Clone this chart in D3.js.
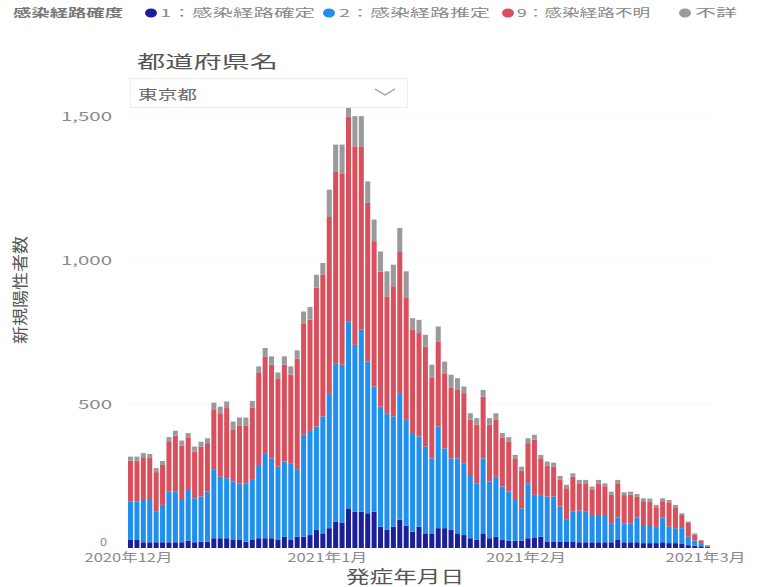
<!DOCTYPE html>
<html><head><meta charset="utf-8">
<script src="https://cdn.jsdelivr.net/npm/d3@7"></script>
<style>
html,body{margin:0;padding:0;background:#fff;}
svg text{font-family:"Noto Sans CJK JP","Noto Sans",sans-serif;}
</style></head>
<body><svg id="c" width="757" height="587"></svg>
<script>
// ---- data ----
const startDate = "2020-12-01";
const endDate = "2021-03-01";
const confirmed = [28,28,20,20,20,20,20,20,20,26,20,22,22,34,34,34,30,28,22,30,34,34,34,30,40,28,40,39,45,63,51,69,92,89,138,126,126,121,126,74,63,74,98,77,57,74,51,51,69,69,63,51,45,34,28,51,34,39,28,26,26,26,34,37,40,23,23,23,23,23,20,20,20,20,20,20,28,20,20,20,17,17,17,20,17,17,14,10,8,6,3];
const estimated = [133,133,147,147,106,130,176,176,147,176,153,157,174,238,214,209,201,197,203,207,255,296,278,253,261,267,232,355,359,360,407,470,551,549,651,581,634,528,436,418,406,384,441,369,343,314,302,261,354,278,249,261,250,220,197,261,197,209,186,170,141,112,191,148,145,156,156,121,75,103,110,106,95,95,95,64,78,66,66,86,63,63,57,86,57,52,55,29,18,11,3];
const unknown = [143,143,149,146,138,139,173,195,190,181,163,174,169,211,221,244,180,200,200,252,320,337,326,305,337,308,387,386,391,483,494,613,668,666,713,691,638,552,506,470,407,453,494,424,359,360,348,280,296,261,245,238,244,192,204,215,198,198,169,173,143,131,140,192,125,108,104,95,110,122,95,99,89,110,100,102,119,98,100,72,83,82,68,57,85,73,46,48,21,9,3];
const notStated = [14,14,14,14,14,14,17,17,17,17,17,17,17,23,23,23,29,29,29,23,23,29,29,23,29,29,29,43,44,45,40,95,93,100,33,105,105,75,75,70,87,75,81,93,41,46,41,46,52,41,46,41,23,23,23,23,23,23,17,17,14,14,17,17,14,14,14,12,12,12,12,12,10,12,10,10,12,10,10,10,10,10,8,10,8,8,6,5,4,2,1];
const seriesKeys = ["1：感染経路確定","2：感染経路推定","9：感染経路不明","不詳"];
const seriesColors = ["#1B1F98","#1F8FF0","#DA4F5C","#9A9A9A"];
const yTicks = [0,500,1000,1500];
const xTickDates = ["2020-12-01","2021-01-01","2021-02-01","2021-03-01"];
const legendTitle = "感染経路確度";
const filterLabel = "都道府県名";
const filterValue = "東京都";
const yTitle = "新規陽性者数";
const xTitle = "発症年月日";

// ---- build ----
const parse = d3.utcParse("%Y-%m-%d");
const dates = d3.utcDay.range(parse(startDate), d3.utcDay.offset(parse(endDate),1));
const rows = dates.map((d,i)=>({date:d,
  [seriesKeys[0]]:confirmed[i],[seriesKeys[1]]:estimated[i],
  [seriesKeys[2]]:unknown[i],[seriesKeys[3]]:notStated[i]}));

const svg = d3.select("#c");
const x = d3.scaleUtc().domain([parse(startDate), parse(endDate)]).range([128, 705]);
const y = d3.scaleLinear().domain([0,1500]).range([548,117]);
const color = d3.scaleOrdinal().domain(seriesKeys).range(seriesColors);
const step = x(d3.utcDay.offset(parse(startDate),1)) - x(parse(startDate));
const bw = step - 1.4;

function fit(sel,w){ sel.attr("textLength",w).attr("lengthAdjust","spacingAndGlyphs"); }

// gridlines
svg.append("g").selectAll("line").data(yTicks.filter(t=>t>0)).join("line")
  .attr("x1",128).attr("x2",712).attr("y1",d=>y(d)).attr("y2",d=>y(d))
  .attr("stroke","#e6e6e6").attr("stroke-width",1).attr("stroke-dasharray","1,3");

// bars
const stack = d3.stack().keys(seriesKeys)(rows);
svg.append("g").selectAll("g").data(stack).join("g").attr("fill",d=>color(d.key))
  .selectAll("rect").data(d=>d).join("rect")
  .attr("x",d=>x(d.data.date)).attr("width",bw)
  .attr("y",d=>y(d[1])).attr("height",d=>Math.max(0,y(d[0])-y(d[1])));

// y axis
const yAx = svg.append("g").attr("transform","translate(112,0)")
  .call(d3.axisLeft(y).tickValues(yTicks).tickFormat(d3.format(",")).tickSize(0).tickPadding(0));
yAx.select(".domain").remove();
yAx.selectAll("text").attr("fill","#8a8a8a").attr("font-size",12)
  .each(function(d){ const s=d3.select(this); fit(s, d===0?7:(d>=1000?51:34));
    if(d===0){ s.attr("font-size",11).attr("y",-6).attr("x",-5); } });

// x axis
const xAx = svg.append("g").attr("transform","translate(0,548)")
  .call(d3.axisBottom(x).tickValues(xTickDates.map(parse)).tickFormat(d3.utcFormat("%Y年%-m月")).tickSize(0).tickPadding(5));
xAx.select(".domain").remove();
xAx.selectAll("text").attr("fill","#8a8a8a").attr("font-size",12)
  .each(function(d,i){ fit(d3.select(this), i===0?88:80); });

// axis titles
svg.append("text").attr("x",405).attr("y",583).attr("text-anchor","middle")
  .attr("font-size",17).attr("fill","#555").text(xTitle).call(fit,118);
svg.append("text").attr("transform","translate(26,290) rotate(-90)").attr("text-anchor","middle")
  .attr("font-size",16).attr("fill","#555").text(yTitle).call(fit,108);

// filter (dropdown)
svg.append("text").attr("x",137).attr("y",68).attr("font-size",17).attr("fill","#555")
  .text(filterLabel).call(fit,141);
svg.append("rect").attr("x",130.5).attr("y",78.5).attr("width",277).attr("height",29)
  .attr("fill","#fff").attr("stroke","#ececec");
svg.append("text").attr("x",138).attr("y",99).attr("font-size",13).attr("fill","#666")
  .text(filterValue).call(fit,59);
svg.append("polyline").attr("points","375,89 385,95 395,89").attr("fill","none")
  .attr("stroke","#999").attr("stroke-width",1.2);

// legend
svg.append("text").attr("x",13).attr("y",17).attr("font-size",11).attr("font-weight","bold")
  .attr("fill","#777").text(legendTitle).call(fit,110);
const legPos = [{m:151,t:160,w:155},{m:329,t:339,w:151},{m:508,t:517,w:133},{m:685,t:695,w:42}];
const leg = svg.append("g").selectAll("g").data(seriesKeys).join("g");
leg.append("ellipse").attr("cx",(d,i)=>legPos[i].m).attr("cy",13).attr("rx",6).attr("ry",4.5)
  .attr("fill",d=>color(d));
leg.append("text").attr("x",(d,i)=>legPos[i].t).attr("y",17).attr("font-size",11).attr("fill","#888")
  .text(d=>d).each(function(d,i){ fit(d3.select(this), legPos[i].w); });
</script></body></html>
